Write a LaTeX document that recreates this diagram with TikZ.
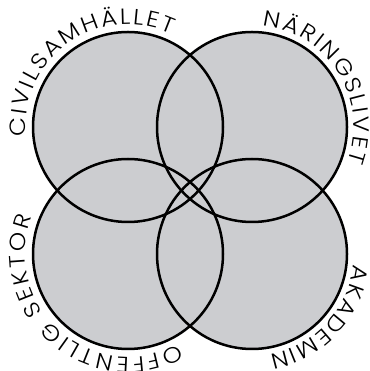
\documentclass[tikz,border=0pt]{standalone}
\usepackage{fontspec}
\setmainfont{Poppins}[UprightFont=* Light, FakeStretch=1.12]
\usetikzlibrary{decorations.text}
\definecolor{gfill}{RGB}{204,205,208}
\newcommand\cf{\fontsize{22}{22}\selectfont}
\tikzset{
  disc/.style={fill=gfill},
  ring/.style={draw=black, line width=2.5pt},
  lbl/.style={decorate, font=\cf, decoration={text along path, text align=fit to path, text={|\cf|#1}}}
}
\begin{document}
\begin{tikzpicture}[x=1pt,y=1pt]
\useasboundingbox (0,0) rectangle (369,371);
\coordinate (TL) at (128,244);
\coordinate (TR) at (252,244);
\coordinate (BL) at (128,117);
\coordinate (BR) at (252,117);
\foreach \c in {TL,TR,BL,BR} \fill[disc] (\c) circle[radius=95];
\foreach \c in {TL,TR,BL,BR} \draw[ring] (\c) circle[radius=95];
\path[lbl={CIVILSAMHÄLLET}] ([shift={(185.5:102.5)}]TL) arc[start angle=185.5,end angle=65,radius=102.5];
\path[lbl={NÄRINGSLIVET}] ([shift={(84:102)}]TR) arc[start angle=84,end angle=-20,radius=102];
\path[lbl={OFFENTLIG SEKTOR}] ([shift={(-61:103)}]BL) arc[start angle=-61,end angle=-201,radius=103];
\path[lbl={AKADEMIN}] ([shift={(-6:102)}]BR) arc[start angle=-6,end angle=-80,radius=102];
\end{tikzpicture}
\end{document}
